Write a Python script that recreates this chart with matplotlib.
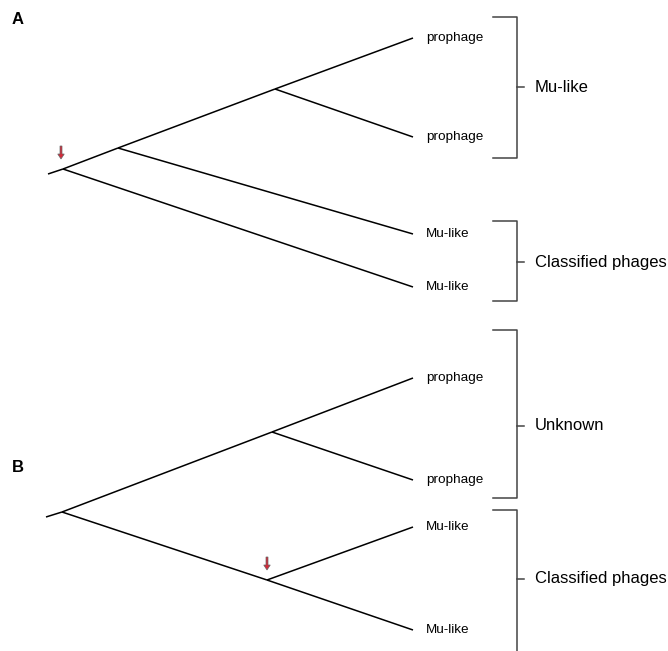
import matplotlib
matplotlib.use("Agg")
import matplotlib.pyplot as plt
from matplotlib.patches import FancyArrow

plt.rcParams['font.family'] = ['Liberation Sans', 'DejaVu Sans']

# ---- Tree A (slanted cladogram) ----
A_node_x = [48, 63, 118, 275]        # root stub, n1, n2, n3
A_node_y = [174, 169, 148, 89]
A_tip_labels = ["prophage", "prophage", "Mu-like", "Mu-like"]
A_tip_x = [413, 413, 413, 413]
A_tip_y = [38, 137, 234, 287]
# edges: (kind_parent, idx_parent, kind_child, idx_child)
A_edges = [("n", 0, "n", 1), ("n", 1, "n", 2), ("n", 1, "t", 3),
           ("n", 2, "n", 3), ("n", 2, "t", 2),
           ("n", 3, "t", 0), ("n", 3, "t", 1)]
A_groups = ["Mu-like", "Classified phages"]
A_group_top = [17, 221]
A_group_bottom = [158, 301]
A_group_mid = [87, 262]
A_arrow = (61, 146, 159)   # x, top, bottom

# ---- Tree B ----
B_node_x = [46, 62, 272, 267]
B_node_y = [517, 512, 432, 580]
B_tip_labels = ["prophage", "prophage", "Mu-like", "Mu-like"]
B_tip_x = [413, 413, 413, 413]
B_tip_y = [378, 480, 527, 630]
B_edges = [("n", 0, "n", 1), ("n", 1, "n", 2), ("n", 1, "n", 3),
           ("n", 2, "t", 0), ("n", 2, "t", 1),
           ("n", 3, "t", 2), ("n", 3, "t", 3)]
B_groups = ["Unknown", "Classified phages"]
B_group_top = [330, 510]
B_group_bottom = [498, 660]
B_group_mid = [426, 579]
B_arrow = (267, 557, 570)

panel_labels = ["A", "B"]
panel_label_y = [20, 467]

fig = plt.figure(figsize=(6.68, 6.51), dpi=100)
ax = fig.add_axes([0, 0, 1, 1])
ax.set_xlim(0, 668)
ax.set_ylim(651, 0)
ax.axis("off")


def draw_tree(nx, ny, tl, tx, ty, edges, groups, gtop, gbot, gmid, arrow):
    def pt(kind, i):
        return (nx[i], ny[i]) if kind == "n" else (tx[i], ty[i])
    for kp, ip, kc, ic in edges:
        x0, y0 = pt(kp, ip)
        x1, y1 = pt(kc, ic)
        ax.plot([x0, x1], [y0, y1], color="black", lw=1.1, solid_capstyle="butt")
    for lab, x, y in zip(tl, tx, ty):
        ax.text(x + 13, y, lab, fontsize=9.7, va="center", ha="left")
    bx = 517
    for g, t, b, m in zip(groups, gtop, gbot, gmid):
        ax.plot([bx - 24, bx, bx, bx - 24], [t, t, b, b], color="#444444", lw=1.1)
        ax.plot([bx, bx + 7], [m, m], color="#444444", lw=1.1)
        ax.text(bx + 18, m, g, fontsize=12, va="center", ha="left")
    x, top, bot = arrow
    ax.add_patch(FancyArrow(x, top, 0, bot - top, width=2.0, head_width=6.5,
                            head_length=5, length_includes_head=True,
                            fc="#d42a3a", ec="#666666", lw=0.5))


draw_tree(A_node_x, A_node_y, A_tip_labels, A_tip_x, A_tip_y, A_edges,
          A_groups, A_group_top, A_group_bottom, A_group_mid, A_arrow)
draw_tree(B_node_x, B_node_y, B_tip_labels, B_tip_x, B_tip_y, B_edges,
          B_groups, B_group_top, B_group_bottom, B_group_mid, B_arrow)

for lab, y in zip(panel_labels, panel_label_y):
    ax.text(12, y, lab, fontsize=12, fontweight="bold", va="center", ha="left")

fig.savefig("out.png", dpi=100)
